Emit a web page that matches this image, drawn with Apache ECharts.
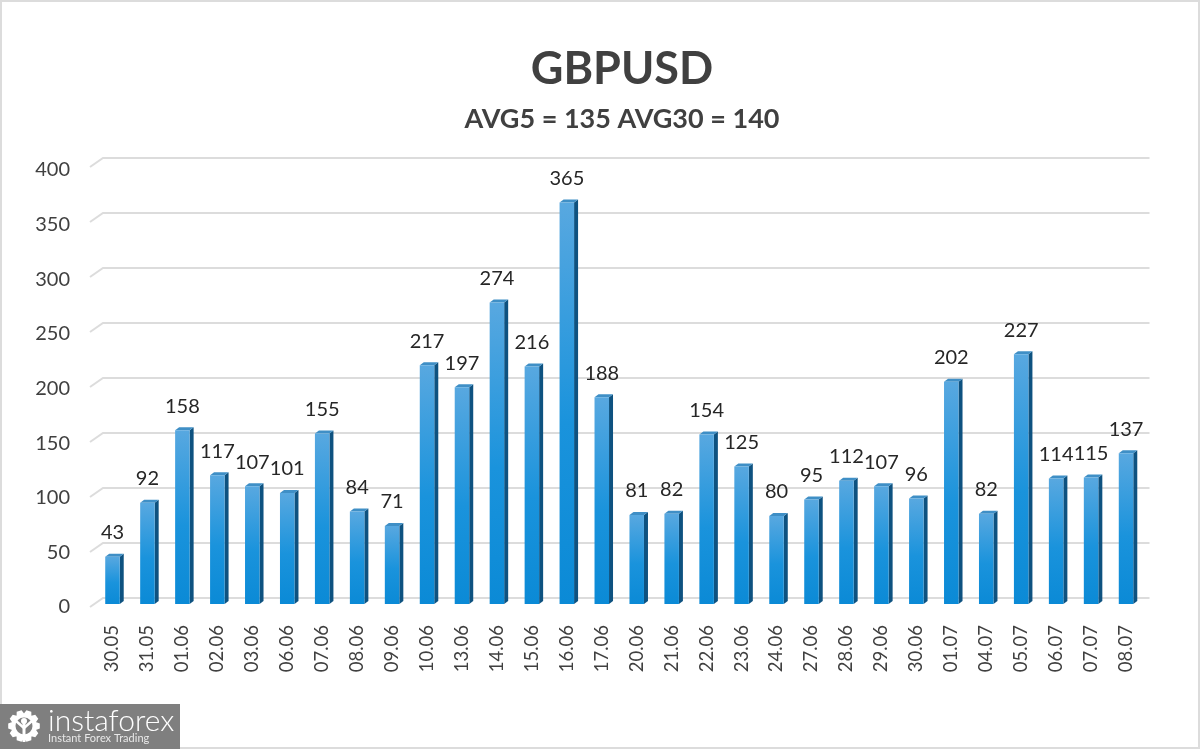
<!DOCTYPE html>
<html><head><meta charset="utf-8">
<style>html,body{margin:0;padding:0;background:#fff}#c{width:1200px;height:749px}</style>
<script src="https://cdn.jsdelivr.net/npm/echarts@6/dist/echarts.min.js"></script>
</head><body><div id="c"></div>
<script>
const categories=['30.05','31.05','01.06','02.06','03.06','06.06','07.06','08.06','09.06','10.06','13.06','14.06','15.06','16.06','17.06','20.06','21.06','22.06','23.06','24.06','27.06','28.06','29.06','30.06','01.07','04.07','05.07','06.07','07.07','08.07'];
const values=[43,92,158,117,107,101,155,84,71,217,197,274,216,365,188,81,82,154,125,80,95,112,107,96,202,82,227,114,115,137];
const gridTicks=[0,50,100,150,200,250,300,350,400];
const titleText='GBPUSD';
const subtitleText='AVG5 = 135 AVG30 = 140';
const FONT='Lato, "Open Sans", sans-serif';
const TXT='#404040';
const chart=echarts.init(document.getElementById('c'),null,{renderer:'canvas'});
const DEPTH_X=4,DEPTH_Y=3,BAR_W=14.5;
function renderBar(params,api){
  const i=api.value(0),v=api.value(1);
  const top=api.coord([i,v]),base=api.coord([i,0]);
  const cx=top[0],l=cx-BAR_W/2,r=cx+BAR_W/2,t=top[1],b=base[1];
  return {type:'group',children:[
    {type:'polygon',shape:{points:[[r,t],[r+DEPTH_X,t-DEPTH_Y],[r+DEPTH_X,b-DEPTH_Y],[r,b]]},style:{fill:'#0e5280'}},
    {type:'polygon',shape:{points:[[l,t],[l+DEPTH_X,t-DEPTH_Y],[r+DEPTH_X,t-DEPTH_Y],[r,t]]},style:{fill:'#3f8fc6'}},
    {type:'rect',shape:{x:l,y:t,width:BAR_W,height:b-t},style:{fill:new echarts.graphic.LinearGradient(0,0,0,1,[{offset:0,color:'#58a8e0'},{offset:0.55,color:'#1a93dc'},{offset:1,color:'#0b8ad6'}])}},
    {type:'text',style:{text:String(v),x:cx,y:t-24,align:'center',verticalAlign:'middle',font:'20px '+FONT,fill:'#262626'}}
  ]};
}
function renderWall(params,api){
  const v=api.value(1);
  const y=api.coord([0,v])[1];
  const cs=params.coordSys,x0=cs.x-5,x1=cs.x+cs.width+6;
  const pts=[[x0,y+3],[x0+13,y-6],[x1,y-6]];
  return {type:'polyline',shape:{points:pts},style:{stroke:'#dcdcdc',lineWidth:2,fill:null}};
}
function gear(cx,cy){
  const pts=[],n=10,ro=16,ri=12.5;
  for(let k=0;k<n;k++){const a=k/n*2*Math.PI,w=0.16;
    [[ri,a-2*w],[ro,a-w],[ro,a+w],[ri,a+2*w]].forEach(p=>pts.push([cx+p[0]*Math.cos(p[1]),cy+p[0]*Math.sin(p[1])]));}
  return [
    {type:'polygon',shape:{points:pts},style:{fill:'#fff'},z:11},
    {type:'circle',shape:{cx:cx,cy:cy,r:8.5},style:{fill:'#7f7f7f'},z:12},
    {type:'circle',shape:{cx:cx,cy:cy-5,r:3},style:{fill:'#fff'},z:13},
    {type:'rect',shape:{x:cx-1.5,y:cy-3,width:3,height:19},style:{fill:'#fff'},z:13},
    {type:'polyline',shape:{points:[[cx-8,cy-5],[cx,cy+2],[cx+8,cy-5]]},style:{stroke:'#fff',lineWidth:2.5,fill:null},z:13}
  ];
}
chart.setOption({
  animation:false,backgroundColor:'#fff',
  title:[
    {text:titleText,left:617,top:42,textAlign:'center',textStyle:{fontFamily:FONT,fontSize:45,fontWeight:'bold',color:TXT}},
    {text:subtitleText,left:617,top:101,textAlign:'center',textStyle:{fontFamily:FONT,fontSize:27,fontWeight:'bold',color:TXT}}
  ],
  grid:[{left:95,right:56.5,top:164,bottom:145},{left:95,right:56.5,top:170,bottom:142}],
  xAxis:[
    {type:'category',data:categories,axisLine:{show:false},axisTick:{show:false},splitLine:{show:false},
     axisLabel:{rotate:90,interval:0,margin:21,fontFamily:FONT,fontSize:18.5,color:TXT}},
    {type:'category',gridIndex:1,data:categories,show:false}
  ],
  yAxis:[
    {type:'value',min:0,max:400,interval:50,axisLine:{show:false},axisTick:{show:false},splitLine:{show:false},axisLabel:{show:false}},
    {type:'value',gridIndex:1,min:0,max:400,interval:50,axisLine:{show:false},axisTick:{show:false},splitLine:{show:false},
     axisLabel:{margin:25,fontFamily:FONT,fontSize:20,color:TXT}}
  ],
  series:[
    {type:'custom',z:1,silent:true,clip:false,data:gridTicks.map(v=>[0,v]),renderItem:renderWall,encode:{x:0,y:1}},
    {type:'custom',z:2,silent:true,clip:false,data:values.map((v,i)=>[i,v]),renderItem:renderBar,encode:{x:0,y:1}}
  ],
  graphic:[
    {type:'rect',shape:{x:1,y:1,width:1198,height:747},style:{fill:null,stroke:'#dcdcdc',lineWidth:2},z:5},
    {type:'rect',shape:{x:0,y:704,width:180,height:45},style:{fill:'#7f7f7f'},z:10},
    ...gear(24,726),
    {type:'text',style:{text:'instaforex',x:48,y:706,font:'300 30px Lato, sans-serif',fill:'#fff'},z:11},
    {type:'text',style:{text:'Instant Forex Trading',x:48,y:733,font:'11px Lato, sans-serif',fill:'#e8e8e8'},z:11}
  ]
});
</script></body></html>
